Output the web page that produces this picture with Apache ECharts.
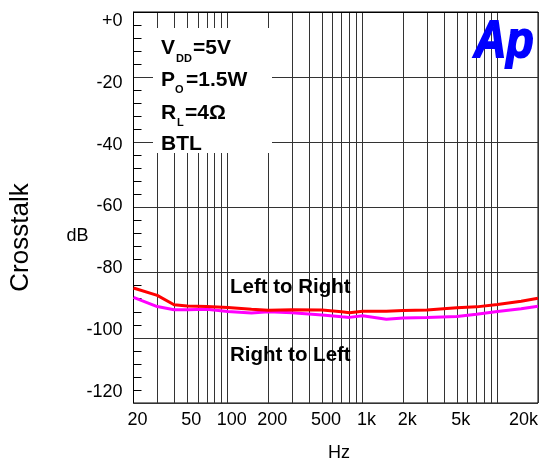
<!DOCTYPE html>
<html>
<head>
<meta charset="utf-8">
<script src="https://cdn.jsdelivr.net/npm/echarts@6/dist/echarts.min.js"></script>
<style>
  html, body { margin: 0; padding: 0; background: #fff; }
  #chart { width: 545px; height: 466px; }
</style>
</head>
<body>
<div id="chart"></div>
<script>
// frequencies (Hz) the curves were read at
const freqs = [20, 30, 40, 50, 70, 100, 150, 200, 300, 500, 700, 800, 1000, 1500, 2000, 3000, 5000, 7000, 10000, 15000, 20000];
// crosstalk in dB
const leftToRight = [-86.4, -88.8, -91.8, -92.2, -92.4, -92.7, -93.3, -93.6, -93.4, -93.5, -94.1, -94.4, -93.9, -93.9, -93.7, -93.5, -92.8, -92.5, -91.7, -90.7, -89.7];
const rightToLeft = [-89.4, -92.4, -93.4, -93.4, -93.3, -94.0, -94.5, -94.1, -94.4, -95.1, -95.7, -95.9, -95.4, -96.5, -96.1, -95.9, -95.6, -94.9, -94.0, -93.1, -92.3];

const xTickLabels = [20, 50, 100, 200, 500, 1000, 2000, 5000, 20000];
const xGridValues = [20, 30, 40, 50, 60, 70, 80, 90, 100, 200, 300, 400, 500, 600, 700, 800, 900,
  1000, 2000, 3000, 4000, 5000, 6000, 7000, 8000, 9000, 10000, 20000];
const yTickLabels = [0, -20, -40, -60, -80, -100, -120];

const font = 'Liberation Sans, Arial, sans-serif';

const chart = echarts.init(document.getElementById('chart'));

const toPairs = (ys) => freqs.map((f, i) => [f, ys[i]]);

const option = {
  animation: false,
  backgroundColor: '#fff',
  grid: {
    left: 133.5, right: 7, top: 12, bottom: 63,
    show: true, borderColor: '#000', borderWidth: 1,
    outerBoundsMode: 'none'
  },
  xAxis: {
    type: 'log',
    logBase: 10,
    min: 20,
    max: 20000,
    axisLine: { show: true, lineStyle: { color: '#000', width: 1 } },
    axisTick: { show: false, customValues: xGridValues },
    splitLine: { show: true, lineStyle: { color: '#333', width: 1 } },
    minorSplitLine: { show: false },
    axisLabel: {
      customValues: xTickLabels,
      formatter: (v) => v >= 1000 ? (v / 1000) + 'k' : String(v),
      color: '#000',
      fontSize: 18,
      fontFamily: font,
      margin: 8,
      padding: [0, 0, 0, 8],
      alignMaxLabel: 'right'
    }
  },
  yAxis: [
    {
      type: 'value',
      min: -120,
      max: 0,
      interval: 20,
      position: 'left',
      axisLine: { show: true, lineStyle: { color: '#000', width: 1 } },
      axisTick: { show: false, inside: true },
      minorTick: { show: true, splitNumber: 5, length: 8, lineStyle: { color: '#000', width: 1 } },
      axisLabel: { show: false },
      splitLine: { show: true, lineStyle: { color: '#333', width: 1 } }
    },
    {
      // label axis, the printed numbers sit a little off the grid lines
      type: 'value',
      min: -123.6,
      max: 2.9,
      position: 'left',
      axisLine: { show: false },
      axisTick: { show: false },
      splitLine: { show: false },
      axisLabel: {
        customValues: yTickLabels,
        formatter: (v) => v === 0 ? '+0' : String(v),
        color: '#000',
        fontSize: 18,
        fontFamily: font,
        margin: 11
      }
    }
  ],
  series: [
    {
      name: 'Left to Right',
      type: 'line',
      yAxisIndex: 1,
      data: toPairs(leftToRight),
      showSymbol: false,
      lineStyle: { color: '#ff0000', width: 3 },
      itemStyle: { color: '#ff0000' },
      z: 5
    },
    {
      name: 'Right to Left',
      type: 'line',
      yAxisIndex: 1,
      data: toPairs(rightToLeft),
      showSymbol: false,
      lineStyle: { color: '#ff00ff', width: 3 },
      itemStyle: { color: '#ff00ff' },
      z: 4
    }
  ],
  graphic: [
    // white box behind the conditions
    { type: 'rect', shape: { x: 153, y: 28, width: 119, height: 125 }, style: { fill: '#fff' }, z: 10 },
    { type: 'text', x: 161, y: 48, z: 11, style: { text: 'V', font: 'bold 21px ' + font, fill: '#000', verticalAlign: 'middle' } },
    { type: 'text', x: 176, y: 59, z: 11, style: { text: 'DD', font: 'bold 11px ' + font, fill: '#000', verticalAlign: 'middle' } },
    { type: 'text', x: 193, y: 48, z: 11, style: { text: '=5V', font: 'bold 21px ' + font, fill: '#000', verticalAlign: 'middle' } },
    { type: 'text', x: 161, y: 80.3, z: 11, style: { text: 'P', font: 'bold 21px ' + font, fill: '#000', verticalAlign: 'middle' } },
    { type: 'text', x: 175, y: 90.4, z: 11, style: { text: 'O', font: 'bold 11px ' + font, fill: '#000', verticalAlign: 'middle' } },
    { type: 'text', x: 186, y: 80.3, z: 11, style: { text: '=1.5W', font: 'bold 21px ' + font, fill: '#000', verticalAlign: 'middle' } },
    { type: 'text', x: 161, y: 113, z: 11, style: { text: 'R', font: 'bold 21px ' + font, fill: '#000', verticalAlign: 'middle' } },
    { type: 'text', x: 177, y: 123, z: 11, style: { text: 'L', font: 'bold 11px ' + font, fill: '#000', verticalAlign: 'middle' } },
    { type: 'text', x: 185, y: 113, z: 11, style: { text: '=4Ω', font: 'bold 21px ' + font, fill: '#000', verticalAlign: 'middle' } },
    { type: 'text', x: 161, y: 144.7, z: 11, style: { text: 'BTL', font: 'bold 21px ' + font, fill: '#000', verticalAlign: 'middle' } },
    // Ap logo
    { type: 'text', x: 474, y: 43, scaleX: 0.86, z: 11, style: { text: 'Ap', font: 'italic bold 52px ' + font, fill: '#0000ff', stroke: '#0000ff', lineWidth: 2, verticalAlign: 'middle' } },
    // curve labels
    { type: 'text', x: 230, y: 287, z: 11, style: { text: 'Left to Right', font: 'bold 20.5px ' + font, fill: '#000', verticalAlign: 'middle' } },
    { type: 'text', x: 230, y: 355, z: 11, style: { text: 'Right to Left', font: 'bold 20.5px ' + font, fill: '#000', verticalAlign: 'middle' } },
    // axis titles
    { type: 'text', x: 339, y: 453, z: 11, style: { text: 'Hz', font: '18px ' + font, fill: '#000', align: 'center', verticalAlign: 'middle' } },
    { type: 'text', x: 77.5, y: 236, z: 11, style: { text: 'dB', font: '18px ' + font, fill: '#000', align: 'center', verticalAlign: 'middle' } },
    { type: 'text', x: 21, y: 237.5, rotation: Math.PI / 2, z: 11, style: { text: 'Crosstalk', font: '26px ' + font, fill: '#000', align: 'center', verticalAlign: 'middle' } }
  ]
};

chart.setOption(option);
window.addEventListener('resize', () => chart.resize());
</script>
</body>
</html>
